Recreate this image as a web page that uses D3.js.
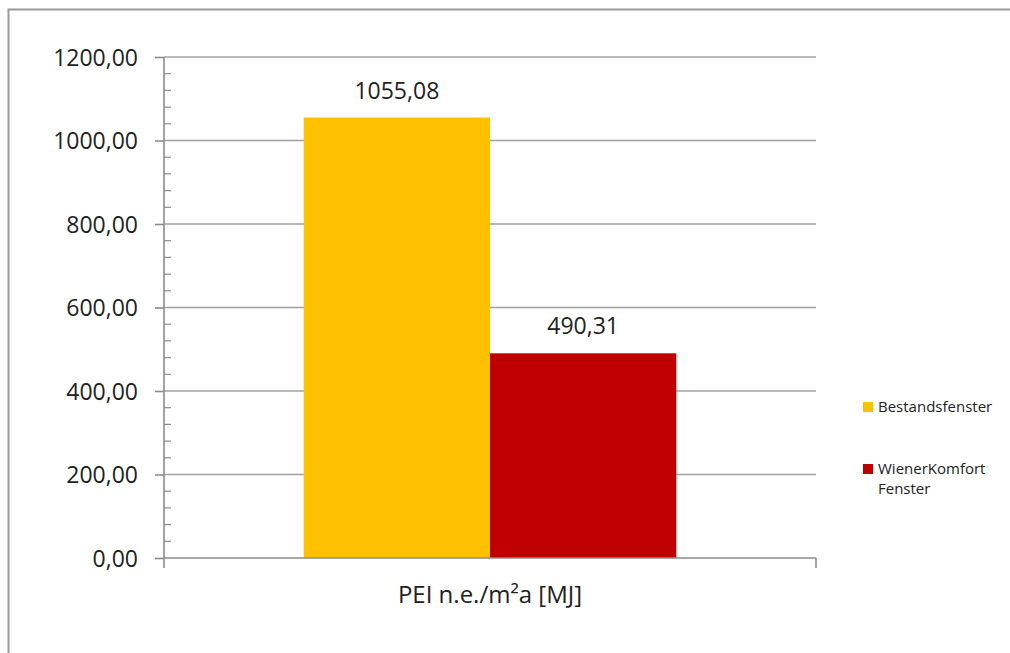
<!DOCTYPE html>
<html>
<head>
<meta charset="utf-8">
<script src="https://cdn.jsdelivr.net/npm/d3@7"></script>
<style>
  html, body { margin: 0; padding: 0; background: #fff; }
  svg { display: block; font-family: "Open Sans", "Liberation Sans", sans-serif; }
</style>
</head>
<body>
<svg id="chart" width="1010" height="653"></svg>
<script>
// Primary energy input per m² and year
const categories = ["PEI n.e./m²a [MJ]"];
const seriesNames = ["Bestandsfenster", "WienerKomfort Fenster"];
const seriesValues = [1055.08, 490.31];
const seriesColors = ["#FFC000", "#C00000"];
const yTicks = [0, 200, 400, 600, 800, 1000, 1200];

const FONT = '"Open Sans", "Liberation Sans", sans-serif';
const svg = d3.select("#chart");
const fmt = v => d3.format(".2f")(v).replace(".", ",");

// Chart frame (extends past the right and bottom edges)
svg.append("rect")
  .attr("x", 8.5).attr("y", 9.5)
  .attr("width", 1040).attr("height", 700)
  .attr("fill", "#fff").attr("stroke", "#9a9a9a").attr("stroke-width", 2);

const plot = { left: 164, right: 816, top: 57, bottom: 558 };

const y = d3.scaleLinear().domain([0, 1200]).range([plot.bottom, plot.top]);
const x0 = d3.scaleBand().domain(categories).range([plot.left, plot.right]).paddingInner(0).paddingOuter(0);
// Excel-style gap width: 150% of bar width split on both sides of the group
const groupFrac = 2 / (2 + 1.5);
const x1 = d3.scaleBand().domain(seriesNames)
  .range([x0.bandwidth() * (1 - groupFrac) / 2, x0.bandwidth() * (1 + groupFrac) / 2]);

// Gridlines
svg.append("g")
  .selectAll("line")
  .data(yTicks.filter(d => d > 0))
  .join("line")
  .attr("x1", plot.left).attr("x2", plot.right)
  .attr("y1", d => y(d)).attr("y2", d => y(d))
  .attr("stroke", "#a0a0a0").attr("stroke-width", 1.6);

// Minor ticks (inside), every 40
const minor = d3.range(0, 1201, 40).filter(d => d % 200 !== 0);
svg.append("g")
  .selectAll("line")
  .data(minor)
  .join("line")
  .attr("x1", plot.left).attr("x2", plot.left + 7)
  .attr("y1", d => y(d)).attr("y2", d => y(d))
  .attr("stroke", "#8c8c8c").attr("stroke-width", 1.2);

// Y axis
const yAxis = d3.axisLeft(y).tickValues(yTicks).tickFormat(fmt).tickSize(9).tickPadding(17);
const gy = svg.append("g").attr("transform", `translate(${plot.left},0)`).call(yAxis)
  .attr("font-family", FONT);
gy.select(".domain").attr("stroke", "#8c8c8c").attr("stroke-width", 1.6)
  .attr("d", `M0,${plot.top}V${plot.bottom}`);
gy.selectAll(".tick line").attr("stroke", "#8c8c8c").attr("stroke-width", 1.6);
gy.selectAll(".tick text").attr("fill", "#222").attr("font-size", 23).attr("dy", "0.36em");

// Bars
const group = svg.append("g")
  .selectAll("g")
  .data(categories)
  .join("g")
  .attr("transform", d => `translate(${x0(d)},0)`);

group.selectAll("rect")
  .data(seriesNames.map((n, i) => ({ name: n, value: seriesValues[i], color: seriesColors[i] })))
  .join("rect")
  .attr("x", d => x1(d.name))
  .attr("width", x1.bandwidth())
  .attr("y", d => y(d.value))
  .attr("height", d => y(0) - y(d.value))
  .attr("fill", d => d.color);

// Data labels
group.selectAll("text.value")
  .data(seriesNames.map((n, i) => ({ name: n, value: seriesValues[i] })))
  .join("text")
  .attr("class", "value")
  .attr("x", d => x1(d.name) + x1.bandwidth() / 2)
  .attr("y", d => y(d.value) - 19)
  .attr("text-anchor", "middle")
  .attr("font-size", 23)
  .attr("fill", "#222")
  .text(d => fmt(d.value));

// X axis
const gx = svg.append("g").attr("transform", `translate(0,${plot.bottom})`);
gx.append("line").attr("x1", plot.left).attr("x2", plot.right)
  .attr("stroke", "#8c8c8c").attr("stroke-width", 1.6);
gx.selectAll("line.tick")
  .data([plot.left, plot.right])
  .join("line")
  .attr("class", "tick")
  .attr("x1", d => d).attr("x2", d => d)
  .attr("y1", 0).attr("y2", 10)
  .attr("stroke", "#8c8c8c").attr("stroke-width", 1.6);
gx.selectAll("text")
  .data(categories)
  .join("text")
  .attr("x", d => x0(d) + x0.bandwidth() / 2)
  .attr("y", 45)
  .attr("text-anchor", "middle")
  .attr("font-size", 24)
  .attr("fill", "#222")
  .text(d => d);

// Legend
const legendItems = [
  { lines: ["Bestandsfenster"], color: seriesColors[0], y: 407 },
  { lines: ["WienerKomfort", "Fenster"], color: seriesColors[1], y: 469 }
];
const lg = svg.append("g").selectAll("g").data(legendItems).join("g")
  .attr("transform", d => `translate(863,${d.y})`);
lg.append("rect").attr("x", 0).attr("y", -5).attr("width", 10).attr("height", 10)
  .attr("fill", d => d.color);
lg.append("text")
  .attr("x", 15)
  .attr("font-size", 15)
  .attr("fill", "#222")
  .selectAll("tspan")
  .data(d => d.lines)
  .join("tspan")
  .attr("x", 15)
  .attr("y", (d, i) => i * 20)
  .attr("dy", "0.35em")
  .text(d => d);
</script>
</body>
</html>
